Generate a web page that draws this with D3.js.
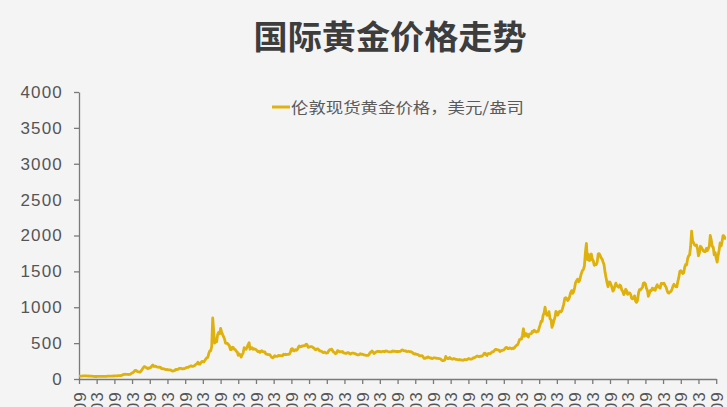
<!DOCTYPE html>
<html>
<head>
<meta charset="utf-8">
<script src="https://cdn.jsdelivr.net/npm/d3@7"></script>
<style>
  body { margin: 0; background: #f4f4f4; overflow: hidden; }
  svg { display: block; }
</style>
</head>
<body>
<svg></svg>
<script>
// size of the picture
var screenWidth = 727,
    screenHeight = 407,
    margin = {"top": 92, "left": 79},
    axisBottom = 379;

var chartTitle = "国际黄金价格走势",
    legendLabel = "伦敦现货黄金价格，美元/盎司";

// monthly London gold price, USD/oz, starting 1968-09
var firstMonth = new Date(1968, 8, 1);
var gold1968to1979 = [
  39.4, 39.6, 39.9, 41.1,
  42.2, 42.5, 43.5, 43.3, 43.5, 41.3, 41.8, 41.0, 40.5, 40.2, 37.4, 35.2,
  34.9, 34.9, 35.1, 35.6, 35.9, 35.4, 35.3, 35.4, 36.2, 37.5, 37.4, 37.4,
  37.9, 38.7, 38.9, 39.0, 40.5, 40.1, 41.0, 42.7, 42.0, 42.5, 42.9, 43.5,
  45.8, 48.3, 48.3, 49.0, 54.6, 62.1, 65.7, 67.0, 65.5, 64.9, 62.9, 63.9,
  65.1, 74.2, 84.4, 90.5, 102, 120, 120, 107, 103, 100, 95, 107,
  129, 150, 168, 172, 163, 154, 143, 155, 152, 159, 182, 195,
  176, 180, 178, 170, 167, 164, 165, 163, 144, 143, 143, 139,
  132, 131, 133, 128, 127, 126, 118, 110, 114, 116, 130, 134,
  132, 136, 148, 149, 147, 141, 143, 145, 150, 159, 162, 161,
  173, 178, 184, 175, 176, 184, 189, 206, 212, 235, 206, 208,
  227, 246, 242, 239, 258, 279, 295, 301, 355, 392, 393, 455
];
var gold1980s = [
  850, 660, 500, 515, 520, 620, 650, 630, 705, 660, 620, 590,
  557, 500, 498, 495, 480, 461, 409, 410, 443, 437, 413, 410,
  384, 374, 330, 350, 333, 305, 340, 365, 436, 422, 415, 447,
  480, 505, 415, 432, 438, 413, 422, 416, 411, 394, 382, 388,
  370, 386, 394, 381, 377, 378, 348, 348, 341, 340, 341, 320,
  303, 295, 304, 325, 316, 316, 317, 330, 324, 326, 325, 322,
  345, 339, 346, 340, 342, 343, 348, 376, 418, 423, 396, 391,
  408, 401, 408, 438, 460, 449, 450, 461, 460, 465, 467, 486,
  477, 442, 443, 451, 451, 451, 437, 431, 413, 407, 420, 418,
  404, 388, 390, 384, 371, 368, 375, 365, 362, 367, 394, 409
];
var gold1990s = [
  410, 416, 393, 374, 369, 352, 362, 395, 389, 380, 381, 378,
  383, 363, 363, 358, 357, 367, 368, 356, 348, 358, 360, 361,
  354, 354, 345, 338, 337, 341, 353, 343, 345, 344, 335, 334,
  329, 329, 330, 342, 367, 372, 392, 378, 355, 364, 374, 383,
  387, 382, 384, 378, 381, 386, 385, 380, 392, 390, 384, 379,
  379, 377, 382, 391, 385, 387, 386, 383, 383, 383, 386, 387,
  400, 405, 396, 393, 392, 385, 383, 387, 383, 381, 378, 369,
  355, 346, 352, 344, 344, 341, 324, 324, 323, 325, 306, 289,
  289, 298, 296, 308, 299, 292, 293, 284, 289, 296, 294, 291,
  287, 287, 286, 282, 277, 261, 256, 257, 265, 315, 293, 283
];
var gold2000s = [
  284, 300, 286, 280, 275, 286, 282, 274, 273, 270, 266, 272,
  266, 262, 263, 261, 272, 270, 268, 273, 283, 283, 276, 276,
  282, 296, 294, 303, 314, 321, 314, 310, 319, 317, 319, 333,
  357, 359, 340, 328, 355, 356, 351, 360, 378, 379, 389, 407,
  414, 405, 406, 404, 384, 392, 398, 400, 406, 420, 439, 442,
  424, 424, 434, 429, 422, 431, 424, 437, 456, 470, 476, 510,
  549, 555, 557, 610, 700, 596, 633, 632, 598, 585, 627, 629,
  631, 665, 655, 679, 667, 655, 665, 665, 712, 754, 806, 803,
  889, 922, 1000, 909, 888, 889, 939, 839, 829, 720, 760, 816,
  858, 943, 924, 890, 928, 946, 934, 949, 996, 1043, 1127, 1134
];
var gold2010s = [
  1118, 1095, 1113, 1148, 1205, 1232, 1193, 1215, 1271, 1343, 1370, 1391,
  1356, 1372, 1424, 1474, 1512, 1529, 1572, 1760, 1890, 1665, 1739, 1652,
  1656, 1742, 1673, 1650, 1585, 1596, 1594, 1630, 1745, 1747, 1722, 1685,
  1671, 1627, 1593, 1487, 1414, 1343, 1286, 1352, 1349, 1316, 1275, 1225,
  1244, 1300, 1336, 1299, 1287, 1279, 1311, 1296, 1239, 1222, 1176, 1201,
  1251, 1227, 1179, 1198, 1199, 1181, 1128, 1117, 1125, 1159, 1086, 1068,
  1097, 1199, 1246, 1242, 1260, 1276, 1337, 1341, 1326, 1266, 1236, 1152,
  1192, 1234, 1231, 1266, 1246, 1260, 1236, 1283, 1314, 1280, 1283, 1265,
  1331, 1331, 1325, 1335, 1303, 1282, 1238, 1202, 1198, 1215, 1220, 1250,
  1291, 1320, 1301, 1286, 1284, 1359, 1413, 1500, 1510, 1495, 1471, 1480
];
var gold2020s = [
  1560, 1598, 1592, 1681, 1716, 1732, 1847, 2060, 1922, 1900, 1867, 1858,
  1867, 1808, 1718, 1760, 1850, 1834, 1807, 1785, 1775, 1777, 1820, 1790,
  1817, 1856, 2000, 1937, 1848, 1837, 1732, 1764, 1681, 1630, 1725, 1798,
  1898, 1855, 1912, 1999, 1992, 1960, 1960
];

var yTicks = [0, 500, 1000, 1500, 2000, 2500, 3000, 3500, 4000];
var xTickStart = new Date(1968, 8, 1),
    xTickEnd = new Date(2022, 8, 1),
    xTickStepMonths = 18;

var goldValues = gold1968to1979.concat(gold1980s, gold1990s, gold2000s, gold2010s, gold2020s);
var months = d3.timeMonth.range(firstMonth, d3.timeMonth.offset(firstMonth, goldValues.length));
var data = goldValues.map(function(v, i) { return {"date": months[i], "price": v}; });

var xScale = d3.scaleTime()
               .domain([xTickStart, xTickEnd])
               .range([margin.left, margin.left + 36 * 17.7]),
    yScale = d3.scaleLinear()
               .domain([0, 4000])
               .range([axisBottom, margin.top]);

var xTickValues = d3.timeMonth.range(xTickStart, d3.timeMonth.offset(xTickEnd, 1), xTickStepMonths);

var svg = d3.select("svg")
            .attr("width", screenWidth)
            .attr("height", screenHeight);

svg.append("rect")
   .attr("width", screenWidth)
   .attr("height", screenHeight)
   .attr("fill", "#f4f4f4");

// title
svg.append("text")
   .attr("x", 390)
   .attr("y", 49)
   .attr("text-anchor", "middle")
   .attr("textLength", 273)
   .attr("lengthAdjust", "spacingAndGlyphs")
   .style("font-family", "'Noto Sans CJK SC', sans-serif")
   .style("font-weight", "bold")
   .style("font-size", "33px")
   .style("fill", "#3d3d3d")
   .text(chartTitle);

// legend
svg.append("line")
   .attr("x1", 272).attr("x2", 290)
   .attr("y1", 107).attr("y2", 107)
   .attr("stroke", "#e0b20f")
   .attr("stroke-width", 3);

svg.append("text")
   .attr("x", 291)
   .attr("y", 112.5)
   .attr("textLength", 233)
   .attr("lengthAdjust", "spacingAndGlyphs")
   .style("font-family", "'Noto Sans CJK SC', sans-serif")
   .style("font-size", "15px")
   .style("fill", "#5a5a5a")
   .text(legendLabel);

// y axis
var yAxis = d3.axisLeft(yScale)
              .tickValues(yTicks)
              .tickFormat(d3.format("d"))
              .tickSize(5)
              .tickSizeOuter(0)
              .tickPadding(11);

var gy = svg.append("g")
            .attr("class", "y axis")
            .attr("transform", "translate(" + margin.left + ",0)")
            .call(yAxis);

// x axis, labels rotated and cut by the bottom edge
var xAxis = d3.axisBottom(xScale)
              .tickValues(xTickValues)
              .tickFormat(d3.timeFormat("%Y-%m"))
              .tickSize(5)
              .tickSizeOuter(0);

var gx = svg.append("g")
            .attr("class", "x axis")
            .attr("transform", "translate(0," + axisBottom + ")")
            .call(xAxis);

gx.selectAll("text")
  .attr("transform", "rotate(-90)")
  .attr("x", -12)
  .attr("y", 0)
  .attr("dy", "0.36em")
  .style("text-anchor", "end");

svg.selectAll(".axis path, .axis line")
   .attr("stroke", "#7a7a7a")
   .attr("stroke-width", 1.3);

svg.selectAll(".axis text")
   .style("font-family", "'Liberation Sans', Arial, sans-serif")
   .style("font-size", "17px")
   .style("letter-spacing", "1.2px")
   .style("fill", "#555");

// the price line
var line = d3.line()
             .x(function(d) { return xScale(d.date); })
             .y(function(d) { return yScale(d.price); });

svg.append("path")
   .datum(data)
   .attr("fill", "none")
   .attr("stroke", "#dfb10c")
   .attr("stroke-width", 2.8)
   .attr("stroke-linejoin", "round")
   .attr("d", line);
</script>
</body>
</html>
